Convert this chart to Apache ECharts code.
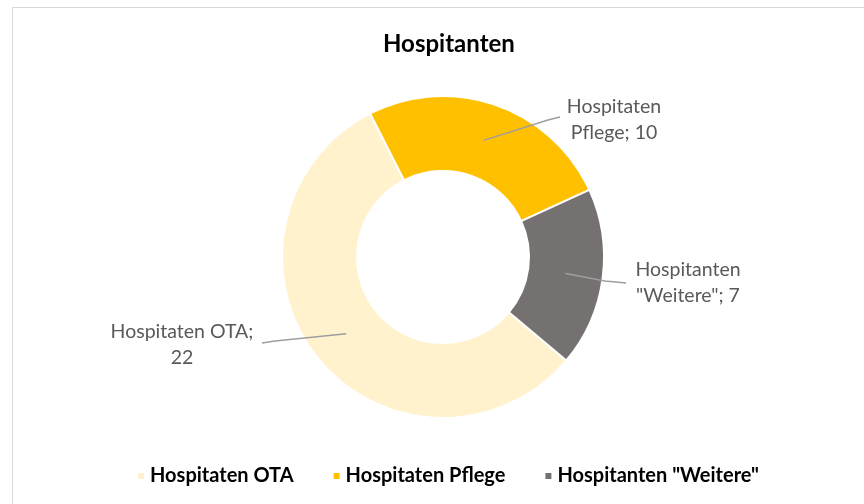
<!DOCTYPE html>
<html>
<head>
<meta charset="utf-8">
<script src="https://cdn.jsdelivr.net/npm/echarts@6/dist/echarts.min.js"></script>
<style>
  html, body { margin: 0; padding: 0; background: #ffffff; }
  #wrap { position: relative; width: 864px; height: 504px; overflow: hidden; }
  #frame { position: absolute; left: 12px; top: 7px; width: 900px; height: 600px; border-left: 1px solid #d9d9d9; border-top: 1px solid #d9d9d9; box-sizing: border-box; }
  #chart { position: absolute; left: 0; top: 0; width: 864px; height: 504px; }
</style>
</head>
<body>
<div id="wrap">
  <div id="frame"></div>
  <div id="chart"></div>
</div>
<script>
const titleText = 'Hospitanten';
const categories = ['Hospitaten OTA', 'Hospitaten Pflege', 'Hospitanten "Weitere"'];
const values = [22, 10, 7];
const colors = ['#FFF2CC', '#FFC000', '#767171'];

const FONT = 'Lato';
const CX = 443, CY = 257, R0 = 86, R1 = 161;
const START_ANGLE = -40; // echarts convention (deg, ccw from 3 o'clock)

// label text anchor positions (centre of text block) and leader-line bends
const labelSpots = [
  { x: 182, y: 345, bend: [[275, 341], [262, 343]] },
  { x: 614, y: 120, bend: [[548, 120], [560, 117]] },
  { x: 688, y: 283, bend: [[605, 281], [626, 283]] }
];

function midPoint(idx) {
  const total = values.reduce((a, b) => a + b, 0);
  let cum = 0;
  for (let i = 0; i < idx; i++) cum += values[i];
  const startCW = 90 - START_ANGLE; // degrees clockwise from 12 o'clock
  const theta = (startCW + (cum + values[idx] / 2) / total * 360) * Math.PI / 180;
  const rm = (R0 + R1) / 2;
  return [CX + rm * Math.sin(theta), CY - rm * Math.cos(theta)];
}

const leaderLines = values.map((v, i) => ({
  type: 'polyline',
  z: 100,
  silent: true,
  shape: { points: [midPoint(i), labelSpots[i].bend[0], labelSpots[i].bend[1]] },
  style: { stroke: '#9E9E9E', lineWidth: 1.5, fill: null }
}));

const chart = echarts.init(document.getElementById('chart'), null, { renderer: 'canvas' });
chart.setOption({
  animation: false,
  backgroundColor: 'transparent',
  title: {
    text: titleText,
    left: 378,
    top: 27,
    textStyle: { fontFamily: FONT, fontWeight: 'bold', fontSize: 24, color: '#000000' }
  },
  legend: {
    data: categories,
    left: 131,
    top: 461,
    icon: 'rect',
    itemWidth: 8,
    itemHeight: 8,
    itemGap: 38,
    textStyle: { fontFamily: FONT, fontWeight: 'bold', fontSize: 20, color: '#000000' }
  },
  graphic: leaderLines,
  series: [{
    type: 'pie',
    center: [CX, CY],
    radius: [R0, R1],
    startAngle: START_ANGLE,
    clockwise: true,
    avoidLabelOverlap: false,
    itemStyle: { borderColor: '#ffffff', borderWidth: 2 },
    label: {
      show: true,
      position: 'outside',
      fontFamily: FONT,
      fontSize: 19.5,
      color: '#595959',
      lineHeight: 26,
      align: 'center',
      formatter: function (p) {
        if (p.dataIndex === 0) return p.name + ';\n' + p.value;
        const sp = p.name.indexOf(' ');
        return p.name.slice(0, sp) + '\n' + p.name.slice(sp + 1) + '; ' + p.value;
      }
    },
    labelLine: { show: false },
    labelLayout: function (params) {
      const s = labelSpots[params.dataIndex];
      return { x: s.x, y: s.y, align: 'center', verticalAlign: 'middle' };
    },
    data: categories.map((c, i) => ({ name: c, value: values[i], itemStyle: { color: colors[i] } }))
  }]
});
</script>
</body>
</html>
